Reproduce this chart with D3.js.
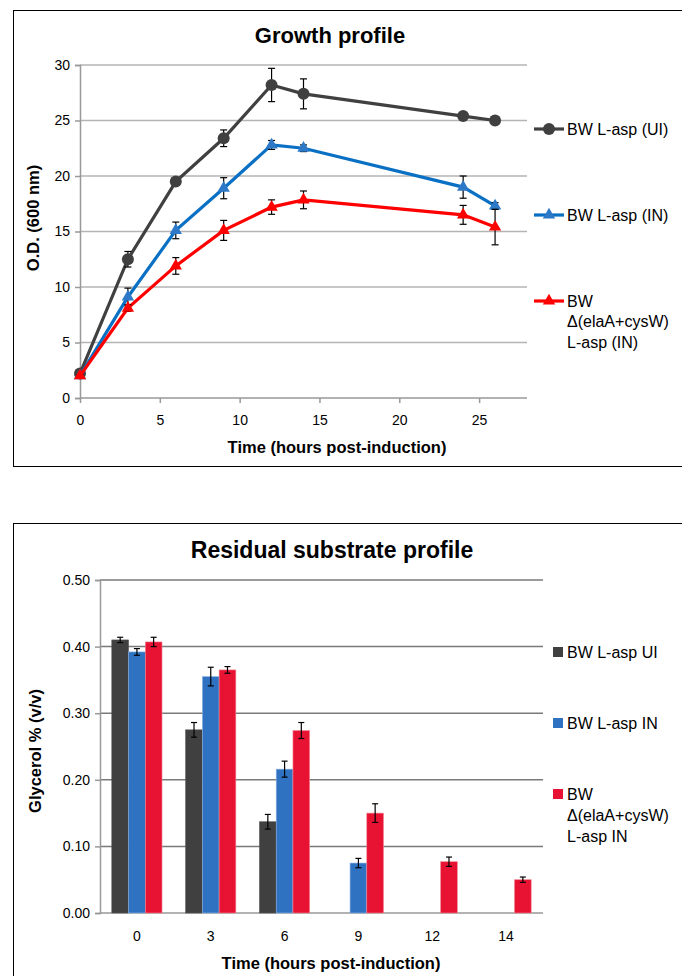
<!DOCTYPE html>
<html>
<head>
<meta charset="utf-8">
<script src="https://cdn.jsdelivr.net/npm/d3@7"></script>
<style>
  body { margin: 0; background: #fff; }
  svg text { font-family: "Liberation Sans", Arial, sans-serif; fill: #000; }
</style>
</head>
<body>
<div id="chart"></div>
<script>
// growth profile data (O.D. 600 nm)
const hours = [0, 3, 6, 9, 12, 14, 24, 26];
const uiOD = [2.2, 12.5, 19.5, 23.4, 28.2, 27.4, 25.4, 25.0];
const uiErr = [0.1, 0.7, 0.3, 0.75, 1.5, 1.35, 0.2, 0.2];
const inOD = [2.0, 9.1, 15.1, 18.9, 22.8, 22.5, 19.0, 17.3];
const inErr = [0.1, 0.8, 0.75, 0.95, 0.4, 0.3, 1.0, 0.3];
const delOD = [2.0, 8.1, 11.9, 15.1, 17.2, 17.85, 16.5, 15.4];
const delErr = [0.1, 0.3, 0.75, 0.9, 0.65, 0.8, 0.85, 1.6];
const odTicks = [0, 5, 10, 15, 20, 25, 30];
const timeTicks = [0, 5, 10, 15, 20, 25];

// residual substrate data (glycerol % v/v)
const sampleTimes = ["0", "3", "6", "9", "12", "14"];
const glyUI = [0.410, 0.275, 0.137, 0, 0, 0];
const glyUIErr = [0.004, 0.011, 0.011, 0, 0, 0];
const glyIN = [0.392, 0.355, 0.216, 0.075, 0, 0];
const glyINErr = [0.005, 0.014, 0.012, 0.007, 0, 0];
const glyDel = [0.407, 0.365, 0.274, 0.150, 0.077, 0.050];
const glyDelErr = [0.007, 0.005, 0.012, 0.014, 0.007, 0.004];
const glyTicks = [0, 0.1, 0.2, 0.3, 0.4, 0.5];

let svg = d3.select("#chart").append("svg")
    .attr("width", 682)
    .attr("height", 976);

//frames
svg.append("rect").attr("x", 13.5).attr("y", 10.5).attr("width", 700).attr("height", 456)
    .attr("fill", "none").attr("stroke", "#000").attr("stroke-width", 1);
svg.append("rect").attr("x", 13.5).attr("y", 523.5).attr("width", 700).attr("height", 500)
    .attr("fill", "none").attr("stroke", "#000").attr("stroke-width", 1);

/* ---------- growth profile ---------- */
let x = d3.scaleLinear().domain([0, 28]).range([80, 527]);
let y = d3.scaleLinear().domain([0, 30]).range([398, 65]);

let g1 = svg.append("g");

// gridlines
g1.selectAll("line.grid").data(odTicks.slice(1)).enter().append("line")
    .attr("x1", x(0)).attr("x2", x(28))
    .attr("y1", d => y(d)).attr("y2", d => y(d))
    .attr("stroke", "#b4b4b4").attr("stroke-width", 1.5);

let yAxis = g1.append("g").attr("transform", `translate(${x(0)},0)`)
    .call(d3.axisLeft(y).tickValues(odTicks).tickSize(5).tickPadding(5));
let xAxis = g1.append("g").attr("transform", `translate(0,${y(0)})`)
    .call(d3.axisBottom(x).tickValues(timeTicks).tickSize(5).tickPadding(12));
[yAxis, xAxis].forEach(a => {
    a.select(".domain").attr("stroke", "#999").attr("stroke-width", 1.5);
    a.selectAll(".tick line").attr("stroke", "#999").attr("stroke-width", 1.5);
    a.selectAll(".tick text").style("font-size", "14px").attr("fill", "#000");
});
xAxis.select(".domain").attr("d", `M${x(0)},0H${x(28)}`);

const growthSeries = [
    {name: "ui", vals: uiOD, err: uiErr, line: "#404040", fill: "#404040", shape: "circle"},
    {name: "in", vals: inOD, err: inErr, line: "#0a70c4", fill: "#2e78c8", shape: "triangle"},
    {name: "del", vals: delOD, err: delErr, line: "#ff0000", fill: "#ff0000", shape: "triangle"}
];

let lineGen = d3.line().x(d => x(d[0])).y(d => y(d[1]));
let tri = d3.symbol().type(d3.symbolTriangle).size(66);

growthSeries.forEach(s => {
    let pts = hours.map((h, i) => [h, s.vals[i], s.err[i]]);
    let gs = g1.append("g");
    gs.append("path").datum(pts).attr("d", lineGen)
        .attr("fill", "none").attr("stroke", s.line).attr("stroke-width", 3.2);
    // error bars
    let eb = gs.selectAll("g.err").data(pts).enter().append("g");
    eb.append("line").attr("x1", d => x(d[0])).attr("x2", d => x(d[0]))
        .attr("y1", d => y(d[1] - d[2])).attr("y2", d => y(d[1] + d[2]))
        .attr("stroke", "#000").attr("stroke-width", 1.2);
    eb.append("line").attr("x1", d => x(d[0]) - 3.5).attr("x2", d => x(d[0]) + 3.5)
        .attr("y1", d => y(d[1] + d[2])).attr("y2", d => y(d[1] + d[2]))
        .attr("stroke", "#000").attr("stroke-width", 1.2);
    eb.append("line").attr("x1", d => x(d[0]) - 3.5).attr("x2", d => x(d[0]) + 3.5)
        .attr("y1", d => y(d[1] - d[2])).attr("y2", d => y(d[1] - d[2]))
        .attr("stroke", "#000").attr("stroke-width", 1.2);
    // markers
    if (s.shape == "circle") {
        gs.selectAll("circle").data(pts).enter().append("circle")
            .attr("cx", d => x(d[0])).attr("cy", d => y(d[1])).attr("r", 6)
            .attr("fill", s.fill);
    } else {
        gs.selectAll("path.mk").data(pts).enter().append("path")
            .attr("class", "mk")
            .attr("d", tri)
            .attr("transform", d => `translate(${x(d[0])},${y(d[1])})`)
            .attr("fill", s.fill);
    }
});

// legend
const growthLegend = [
    {lines: ["BW L-asp (UI)"], y: 129},
    {lines: ["BW L-asp (IN)"], y: 215},
    {lines: ["BW", "Δ(elaA+cysW)", "L-asp (IN)"], y: 301}
];
growthLegend.forEach((l, i) => {
    let s = growthSeries[i];
    g1.append("line").attr("x1", 534).attr("x2", 564).attr("y1", l.y).attr("y2", l.y)
        .attr("stroke", s.line).attr("stroke-width", 3.2);
    if (s.shape == "circle") {
        g1.append("circle").attr("cx", 549).attr("cy", l.y).attr("r", 6).attr("fill", s.fill);
    } else {
        g1.append("path").attr("d", tri).attr("transform", `translate(549,${l.y})`).attr("fill", s.fill);
    }
    l.lines.forEach((t, k) => {
        g1.append("text").attr("x", 567).attr("y", l.y + k * 20.5)
            .attr("dy", "0.36em").style("font-size", "16px").text(t);
    });
});

g1.append("text").attr("x", 330).attr("y", 43).attr("text-anchor", "middle")
    .style("font-size", "22px").style("font-weight", "bold").text("Growth profile");
g1.append("text").attr("x", 337).attr("y", 453).attr("text-anchor", "middle")
    .style("font-size", "16.5px").style("font-weight", "bold").text("Time (hours post-induction)");
g1.append("text").attr("transform", "translate(39,218) rotate(-90)").attr("text-anchor", "middle")
    .style("font-size", "16.5px").style("font-weight", "bold").text("O.D. (600 nm)");

/* ---------- residual substrate profile ---------- */
let x0 = d3.scaleBand().domain(sampleTimes).range([100, 543]);
let bw = x0.bandwidth();
const barSeries = ["ui", "in", "del"];
let x1 = d3.scaleBand().domain(barSeries).range([bw * 0.16, bw * 0.84]);
let y2 = d3.scaleLinear().domain([0, 0.5]).range([913, 580]);

let g2 = svg.append("g");
g2.selectAll("line.grid").data(glyTicks.slice(1)).enter().append("line")
    .attr("x1", 100).attr("x2", 543)
    .attr("y1", d => y2(d)).attr("y2", d => y2(d))
    .attr("stroke", "#7a7a7a").attr("stroke-width", 1.5);

let yAxis2 = g2.append("g").attr("transform", "translate(100,0)")
    .call(d3.axisLeft(y2).tickValues(glyTicks).tickFormat(d3.format(".2f")).tickSize(5).tickPadding(5));
let xAxis2 = g2.append("g").attr("transform", `translate(0,${y2(0)})`)
    .call(d3.axisBottom(x0).tickSize(0).tickPadding(18));
[yAxis2, xAxis2].forEach(a => {
    a.select(".domain").attr("stroke", "#999").attr("stroke-width", 1.5);
    a.selectAll(".tick line").attr("stroke", "#999").attr("stroke-width", 1.5);
    a.selectAll(".tick text").style("font-size", "14px").attr("fill", "#000");
});
xAxis2.select(".domain").attr("d", "M100,0H543");

const barData = [
    {key: "ui", vals: glyUI, err: glyUIErr, color: "#404040", edge: "#555"},
    {key: "in", vals: glyIN, err: glyINErr, color: "#3072c2", edge: "#8fb4e3"},
    {key: "del", vals: glyDel, err: glyDelErr, color: "#e81332", edge: "#f28a99"}
];

barData.forEach(s => {
    let pts = sampleTimes.map((t, i) => ({t: t, v: s.vals[i], e: s.err[i]}));
    let gb = g2.append("g");
    gb.selectAll("rect").data(pts).enter().append("rect")
        .attr("x", d => x0(d.t) + x1(s.key))
        .attr("y", d => y2(d.v))
        .attr("width", x1.bandwidth())
        .attr("height", d => y2(0) - y2(d.v))
        .attr("fill", s.color)
        .attr("stroke", s.edge).attr("stroke-width", 0.6);
});
barData.forEach(s => {
    let pts = sampleTimes.map((t, i) => ({t: t, v: s.vals[i], e: s.err[i]})).filter(d => d.v > 0);
    let cx = d => x0(d.t) + x1(s.key) + x1.bandwidth() / 2;
    let eb = g2.append("g").selectAll("g").data(pts).enter().append("g");
    eb.append("line").attr("x1", cx).attr("x2", cx)
        .attr("y1", d => y2(d.v - d.e)).attr("y2", d => y2(d.v + d.e))
        .attr("stroke", "#000").attr("stroke-width", 1.2);
    [1, -1].forEach(sg => {
        eb.append("line").attr("x1", d => cx(d) - 3).attr("x2", d => cx(d) + 3)
            .attr("y1", d => y2(d.v + sg * d.e)).attr("y2", d => y2(d.v + sg * d.e))
            .attr("stroke", "#000").attr("stroke-width", 1.2);
    });
});

const barLegend = [
    {lines: ["BW L-asp UI"], y: 652},
    {lines: ["BW L-asp IN"], y: 723},
    {lines: ["BW", "Δ(elaA+cysW)", "L-asp IN"], y: 794}
];
barLegend.forEach((l, i) => {
    g2.append("rect").attr("x", 553).attr("y", l.y - 5).attr("width", 10).attr("height", 10)
        .attr("fill", barData[i].color);
    l.lines.forEach((t, k) => {
        g2.append("text").attr("x", 567).attr("y", l.y + k * 21)
            .attr("dy", "0.36em").style("font-size", "16px").text(t);
    });
});

g2.append("text").attr("x", 332).attr("y", 558).attr("text-anchor", "middle")
    .style("font-size", "23px").style("font-weight", "bold").text("Residual substrate profile");
g2.append("text").attr("x", 331).attr("y", 969).attr("text-anchor", "middle")
    .style("font-size", "16.5px").style("font-weight", "bold").text("Time (hours post-induction)");
g2.append("text").attr("transform", "translate(41,751) rotate(-90)").attr("text-anchor", "middle")
    .style("font-size", "16.5px").style("font-weight", "bold").text("Glycerol % (v/v)");
</script>
</body>
</html>
